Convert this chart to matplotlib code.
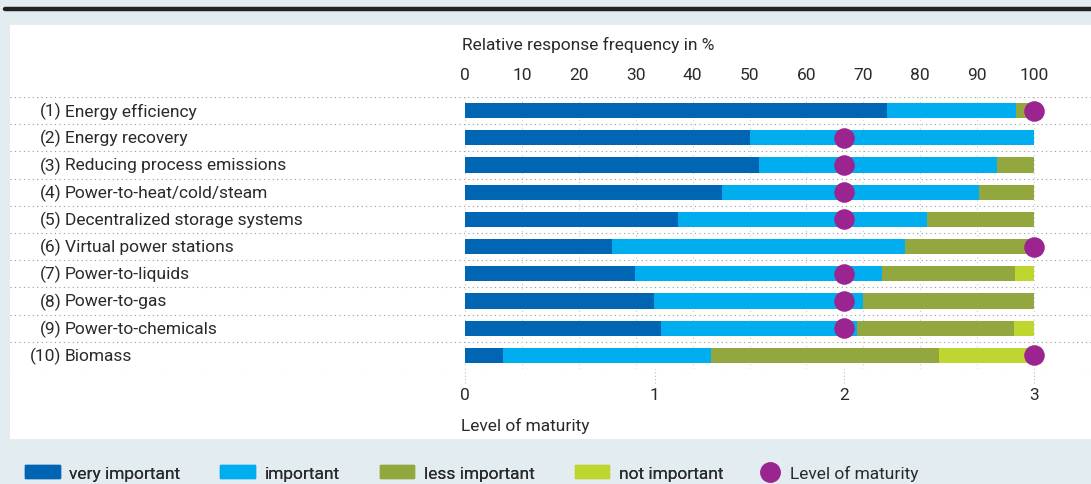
import numpy as np
import matplotlib.pyplot as plt
from matplotlib.patches import Rectangle, Patch
from matplotlib.lines import Line2D

plt.rcParams['font.family'] = ['Roboto', 'DejaVu Sans']

numbers = ['(1)', '(2)', '(3)', '(4)', '(5)', '(6)', '(7)', '(8)', '(9)', '(10)']
names = ['Energy efficiency', 'Energy recovery', 'Reducing process emissions',
         'Power-to-heat/cold/steam', 'Decentralized storage systems',
         'Virtual power stations', 'Power-to-liquids', 'Power-to-gas',
         'Power-to-chemicals', 'Biomass']
very_important = [74.2, 50.0, 51.7, 45.2, 37.4, 25.8, 29.9, 33.2, 34.4, 6.7]
important = [22.6, 50.0, 41.8, 45.1, 43.8, 51.5, 43.4, 36.7, 34.5, 36.5]
less_important = [3.2, 0.0, 6.5, 9.7, 18.8, 22.7, 23.4, 30.1, 27.6, 40.1]
not_important = [0.0, 0.0, 0.0, 0.0, 0.0, 0.0, 3.3, 0.0, 3.5, 16.7]
maturity = [3, 2, 2, 2, 2, 3, 2, 2, 2, 3]

pct_ticks = [0, 10, 20, 30, 40, 50, 60, 70, 80, 90, 100]
mat_ticks = [0, 1, 2, 3]

colors = ['#0066b3', '#00adef', '#92a83e', '#bfd630']
purple = '#9b2490'
bg = '#e3ecf1'
txt = '#2a2a2a'
fs = 12.5

W, H = 1091, 485
fig = plt.figure(figsize=(W / 100, H / 100), dpi=100)
fig.patch.set_facecolor(bg)

# white panel and black rule on top
fig.patches.append(Rectangle((10 / W, 45 / H), 1 - 10 / W, 414 / H,
                             transform=fig.transFigure, facecolor='white',
                             edgecolor='none', zorder=-10))
fig.add_artist(Line2D([5 / W, 1], [475 / H, 475 / H], transform=fig.transFigure,
                      color='#222222', linewidth=3.2, solid_capstyle='round'))

# axes covers full panel width, rows from y=98 to y=370 (pixels from top)
ax = fig.add_axes([10 / W, (H - 370) / H, 1 - 10 / W, 272 / H])
ax.patch.set_alpha(0)
px = 569 / 100.0
xmin = -(465 - 10) / px
xmax = 100 + (1091 - 1034) / px
ax.set_xlim(xmin, xmax)
ax.set_ylim(9.5, -0.5)

y = np.arange(len(names))
left = np.zeros(len(names))
for vals, c in zip([very_important, important, less_important, not_important], colors):
    ax.barh(y, vals, left=left, height=0.56, color=c, zorder=2)
    left += np.array(vals)

for sep in np.arange(-0.5, 10, 1):
    ax.axhline(sep, color='#999999', linestyle=(0, (1, 3)), linewidth=0.8, zorder=1)
for t in pct_ticks:
    ax.plot([t, t], [-0.5, 9.5], color='#cccccc', linestyle=(0, (1, 3)),
            linewidth=0.8, zorder=1)

for i in range(len(names)):
    ax.text(-70.9, i, numbers[i], ha='right', va='center', fontsize=fs, color=txt)
    ax.text(-70.3, i, names[i], ha='left', va='center', fontsize=fs, color=txt)

ax.set_yticks([])
for s in ax.spines.values():
    s.set_visible(False)
ax.text(-0.6, -2.45, 'Relative response frequency in %', ha='left', va='center',
        fontsize=fs, color=txt)

# maturity scale on a twin axis
ax2 = ax.twiny()
ax2.set_xlim(xmin * 3 / 100, xmax * 3 / 100)
ax2.set_ylim(9.5, -0.5)
ax2.scatter(maturity, y, s=190, color=purple, zorder=5, clip_on=False)
ax2.set_xticks(mat_ticks)
ax2.xaxis.tick_bottom()
ax2.tick_params(axis='x', length=0, pad=13, labelsize=fs, labelcolor=txt)
for s in ax2.spines.values():
    s.set_visible(False)
ax2.vlines(mat_ticks, -0.05, 0, transform=ax2.get_xaxis_transform(), color='#bbbbbb',
           linestyle=(0, (1, 2)), linewidth=0.8, clip_on=False)
ax2.text(-0.02, 11.55, 'Level of maturity', ha='left', va='center', fontsize=fs,
         color=txt)

# percent ticks on top (after twiny, which moves them)
ax.set_xticks(pct_ticks)
ax.set_xticklabels([str(t) for t in pct_ticks])
ax.xaxis.tick_top()
ax.tick_params(axis='x', length=0, pad=11, labelsize=fs, labelcolor=txt)

handles = [Patch(color=c) for c in colors]
leg = fig.legend(handles, ['very important', 'important', 'less important', 'not important'],
                 loc='center left', bbox_to_anchor=(25 / W, 11 / H), ncol=4, frameon=False,
                 fontsize=fs, handlelength=2.0, handleheight=0.7, columnspacing=2.3,
                 handletextpad=0.55, borderpad=0, borderaxespad=0, labelcolor=txt)
fig.add_artist(leg)
dot = Line2D([], [], marker='o', linestyle='none', color=purple, markersize=14)
fig.legend([dot], ['Level of maturity'], loc='center left',
           bbox_to_anchor=(761 / W, 11 / H), frameon=False, fontsize=fs,
           handlelength=1.0, handletextpad=0.65, borderpad=0, borderaxespad=0,
           labelcolor=txt)

fig.savefig('out.png', dpi=100, facecolor=bg)
